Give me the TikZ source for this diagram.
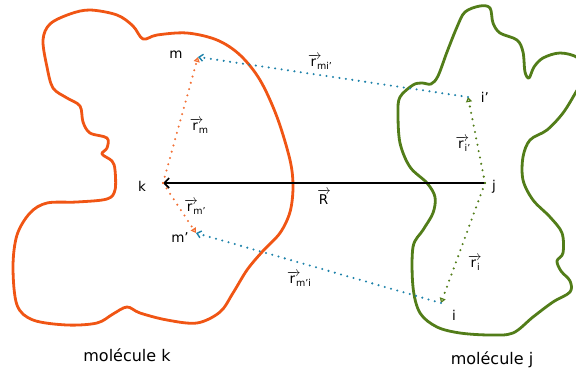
\documentclass[tikz,border=0pt]{standalone}
\usepackage{fontspec}
\usepackage{amsmath}
\usepackage{fix-cm}
\setmainfont{DejaVu Sans}
\usetikzlibrary{arrows.meta}
\definecolor{orK}{RGB}{240,85,20}
\definecolor{orD}{RGB}{242,110,50}
\definecolor{grJ}{RGB}{82,125,25}
\definecolor{blD}{RGB}{30,130,170}
\newcommand{\vr}[1]{$\overrightarrow{\text{r}\kern3pt}$\kern-4.5pt\raisebox{-0.45ex}{\fontsize{9.5}{10}\selectfont #1}}
\begin{document}
\begin{tikzpicture}[x=1pt,y=-1pt,
  blob/.style={line width=2.8pt,line join=round},
  dots/.style={line width=2.3pt,line cap=round,dash pattern=on 0pt off 6.5pt},
  lbl/.style={font=\fontsize{13.5}{15}\selectfont,inner sep=1pt},
  vlab/.style={font=\fontsize{13.5}{15}\selectfont,inner sep=0pt},
  title/.style={font=\fontsize{16}{18}\selectfont,inner sep=0pt}]
\useasboundingbox (0,0) rectangle (576,372);
% molecule k
\draw[blob,orK] plot[smooth cycle,tension=0.55] coordinates{
(43,40) (47,67) (53,88) (67,98) (80,106) (83,122) (90,133) (107,138) (107,148) (102,154) (112,161) (115,170) (115,190) (107,199) (77,202) (47,203) (30,213) (17,235) (13,267) (17,305) (33,320) (67,325) (97,323) (113,314) (127,307) (140,313) (167,320) (197,323) (220,312) (233,293) (247,270) (262,252) (280,233) (290,212) (293,187) (290,160) (277,117) (260,80) (240,55) (217,40) (187,33) (157,35) (143,39) (133,26) (117,15) (90,10) (70,14) (50,24)};
% molecule j
\draw[blob,grJ] plot[smooth cycle,tension=0.55] coordinates{
(400,97) (413,85) (422,83) (431,84) (438,76) (447,52) (457,27) (465,12) (480,6) (490,8) (493,23) (500,33) (517,40) (523,52) (525,72) (529,78) (534,67) (543,58) (560,53) (578,58) (586,74) (576,92) (563,113) (547,130) (530,140) (523,157) (523,180) (533,200) (550,217) (562,233) (563,253) (557,261) (561,271) (570,281) (570,292) (553,302) (533,317) (513,333) (490,335) (460,333) (437,327) (420,313) (413,287) (413,247) (423,230) (433,213) (435,197) (427,183) (410,167) (400,143) (398,113)};
% points
\coordinate (k) at (163,183);
\coordinate (m) at (198,57);
\coordinate (mp) at (196,233);
\coordinate (j) at (485,183);
\coordinate (ip) at (468,97);
\coordinate (i) at (441,303);
% point labels
\node[lbl] (lk) at (142,186) {k};
\node[lbl] (lm) at (176,55) {m};
\node[lbl] (lmp) at (180,238) {m’};
\node[lbl] (lj) at (494,187) {j};
\node[lbl] (lip) at (485,97) {i’};
\node[lbl] (li) at (454,315) {i};
% vectors
\draw[line width=1.6pt,black,-{Straight Barb[length=5pt,width=10pt]}] (j) -- (k);
\draw[dots,orD,-{Triangle[open,length=5pt,width=6pt,line width=1.2pt]}] (k) -- (m);
\draw[dots,orD,-{Triangle[open,length=5pt,width=6pt,line width=1.2pt]}] (k) -- (mp);
\draw[dots,grJ,-{Triangle[open,length=5pt,width=6pt,line width=1.2pt]}] (j) -- (ip);
\draw[dots,grJ,-{Triangle[open,length=5pt,width=6pt,line width=1.2pt]}] (j) -- (i);
\draw[dots,blD,-{Straight Barb[length=4pt,width=7pt,line width=1.4pt]}] (ip) -- (m);
\draw[dots,blD,-{Straight Barb[length=4pt,width=7pt,line width=1.4pt]}] (i) -- (mp);
% vector labels
\node[vlab] (vrmip) at (320,62) {\vr{mi’}};
\node[vlab] (vrm) at (199,126) {\vr{m}};
\node[vlab] (vrmp) at (195,207) {\vr{m’}};
\node[vlab] (vR) at (324,197) {$\overrightarrow{\text{R}\kern1pt}$};
\node[vlab] (vrmpi) at (299,279) {\vr{m’i}};
\node[vlab] (vrip) at (463,144) {\vr{i’}};
\node[vlab] (vri) at (474,263) {\vr{i}};
% titles
\node[title] (tk) at (127,355) {molécule k};
\node[title] (tj) at (492,360) {molécule j};
\end{tikzpicture}
\end{document}
